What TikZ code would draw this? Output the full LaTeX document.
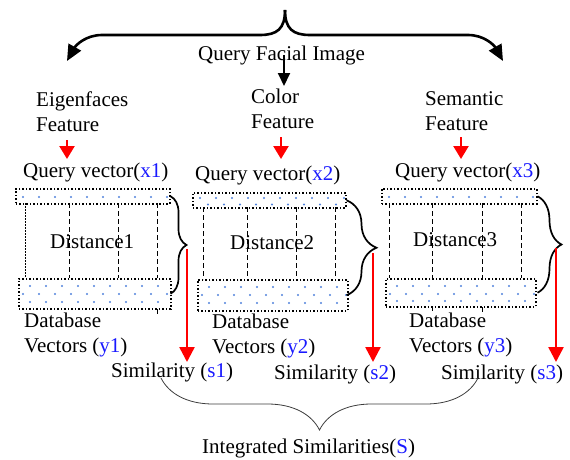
\documentclass[tikz,border=0pt]{standalone}
\usepackage{fontspec}
\setmainfont{Liberation Serif}
\usetikzlibrary{arrows.meta,decorations.pathreplacing}
\definecolor{dotblue}{RGB}{80,130,220}
\definecolor{labelblue}{RGB}{25,25,255}
\definecolor{bracegray}{RGB}{60,60,60}
% two stacked lines whose baseline is the first line
\newcommand{\stacklines}[2]{\vtop{\hbox{#1}\hbox{#2}}}
\newcommand{\hl}[1]{\textcolor{labelblue}{#1}}
% one row of small dots: left x, y, count
\newcommand{\dotrow}[3]{%
  \foreach \c in {1,...,#3} {
    \fill[dotblue] ({#1+(\c-1)*16},#2) circle (1.15);
  }}
\begin{document}
\begin{tikzpicture}[x=1pt,y=-1pt,
  every node/.style={font=\fontsize{21}{25.5}\selectfont, inner sep=0pt, anchor=base west},
  vecbox/.style={draw, dotted, line width=1.5pt, anchor=north west},
  cellline/.style={dash pattern=on 5pt off 3pt, line width=0.9pt},
  fineline/.style={dash pattern=on 1.5pt off 1.5pt, line width=0.6pt},
  featarrow/.style={red, line width=2.5pt, -{Triangle[length=13pt,width=15pt]}},
  simarrow/.style={red, line width=2.5pt, -{Triangle[length=15pt,width=15pt]}},
  splitarrow/.style={line width=2.6pt, -{Triangle[length=16pt,width=14pt]}},
  colarrow/.style={line width=2pt, -{Triangle[length=13pt,width=12pt]}},
  panelbrace/.style={decorate, decoration={brace, amplitude=#1}, line width=1.7pt},
  sumbrace/.style={decorate, decoration={brace, amplitude=52pt}, line width=0.8pt, bracegray}
]
\useasboundingbox (0,0) rectangle (570,460);

% query image split into three feature branches
\node (qimg) at (198,61) {Query Facial Image};
\coordinate (apex) at (285,10);
\coordinate (eigtip) at (67,61);
\coordinate (semtip) at (503,61);
\draw[splitarrow] (apex) .. controls (285,29) and (277,35) .. (260,35) -- (102,35)
  .. controls (86,35) and (76,45) .. (eigtip);
\draw[splitarrow] (apex) .. controls (285,29) and (293,35) .. (310,35) -- (468,35)
  .. controls (484,35) and (494,45) .. (semtip);
\coordinate (colstart) at (284,55);
\coordinate (coltip) at (284,86);
\draw[colarrow] (colstart) -- (coltip);

% feature names
\node (eig) at (36,106) {\stacklines{Eigenfaces}{Feature}};
\node (col) at (251,103) {\stacklines{Color}{Feature}};
\node (sem) at (425,105) {\stacklines{Semantic}{Feature}};

\coordinate (ef0) at (67,140);  \coordinate (ef1) at (67,159);
\coordinate (cf0) at (281,137); \coordinate (cf1) at (281,159);
\coordinate (sf0) at (461,137); \coordinate (sf1) at (461,159);
\draw[featarrow] (ef0) -- (ef1);
\draw[featarrow] (cf0) -- (cf1);
\draw[featarrow] (sf0) -- (sf1);

% query vectors
\node (qv1) at (23,177) {Query vector(\hl{x1})};
\node (qv2) at (195,180) {Query vector(\hl{x2})};
\node (qv3) at (395,177) {Query vector(\hl{x3})};

% dot fillings of the query vector boxes
\dotrow{23}{197}{10}
\dotrow{200}{198}{10}
\dotrow{208}{204.5}{9}
\dotrow{389}{197}{10}
% dot fillings of the database vector boxes
\dotrow{30}{286}{9}
\dotrow{23}{294}{10}
\dotrow{30}{302}{9}
\dotrow{209}{287}{9}
\dotrow{202}{295}{10}
\dotrow{209}{303}{9}
\dotrow{397}{286}{9}
\dotrow{390}{294}{10}
\dotrow{397}{301}{9}

% distance grids
\draw[fineline] (25,203) -- (25,278);
\foreach \x in {69,118,157} \draw[cellline] (\x,203) -- (\x,278);
\foreach \x in {203,247,296,335} \draw[cellline] (\x,207) -- (\x,279);
\foreach \x in {389,432,482,521} \draw[cellline] (\x,203) -- (\x,278);
\draw[cellline] (157,309) -- (157,314);
\draw[cellline] (432,307) -- (432,311);
\draw[cellline] (482,307) -- (482,315);

% query and database vector boxes
\node[vecbox, minimum width=154pt, minimum height=15pt] (q1) at (15,188) {};
\node[vecbox, minimum width=153pt, minimum height=15pt] (q2) at (192,192) {};
\node[vecbox, minimum width=155pt, minimum height=15pt] (q3) at (381,188) {};
\node[vecbox, minimum width=152pt, minimum height=30pt] (d1) at (18,278) {};
\node[vecbox, minimum width=150pt, minimum height=31pt] (d2) at (197,279) {};
\node[vecbox, minimum width=150pt, minimum height=28pt] (d3) at (385,278) {};

\node (dist1) at (50,248) {Distance1};
\node (dist2) at (230,249) {Distance2};
\node (dist3) at (413,246) {Distance3};

% braces joining each query box with its database box
\draw[panelbrace=16pt] (q1.east) -- (q1.east |- d1.east);
\draw[panelbrace=30pt] (q2.east) -- (q2.east |- d2.east);
\draw[panelbrace=24pt] (q3.east) -- (q3.east |- d3.east);

% similarity outputs
\coordinate (s1a) at (187,249); \coordinate (s1b) at (187,362);
\coordinate (s2a) at (373,253); \coordinate (s2b) at (373,362);
\coordinate (s3a) at (556,248); \coordinate (s3b) at (556,362);
\draw[simarrow] (s1a) -- (s1b);
\draw[simarrow] (s2a) -- (s2b);
\draw[simarrow] (s3a) -- (s3b);

\node (db1) at (24,327) {\stacklines{Database}{Vectors (\hl{y1})}};
\node (db2) at (212,328) {\stacklines{Database}{Vectors (\hl{y2})}};
\node (db3) at (409,327) {\stacklines{Database}{Vectors (\hl{y3})}};

\node (sim1) at (111,377) {Similarity (\hl{s1})};
\node (sim2) at (274,379) {Similarity (\hl{s2})};
\node (sim3) at (441,379) {Similarity (\hl{s3})};

% integration of the three similarities
\coordinate (sumr) at (478,378);
\coordinate (suml) at (161,378);
\draw[sumbrace] (sumr) -- (suml);
\node (total) at (202,453) {Integrated Similarities(\hl{S})};
\end{tikzpicture}
\end{document}
